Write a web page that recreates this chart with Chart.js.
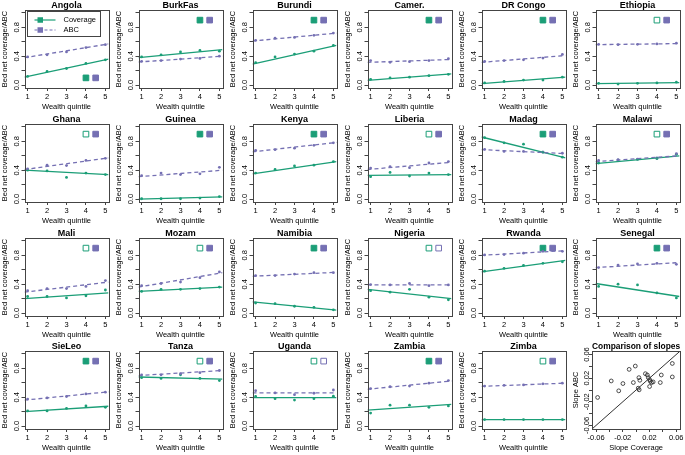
<!DOCTYPE html>
<html><head><meta charset="utf-8">
<script src="https://cdn.jsdelivr.net/npm/chart.js@4/dist/chart.umd.min.js"></script>
<style>
html,body{margin:0;padding:0;background:#fff;}
#wrap{position:relative;width:685px;height:455px;overflow:hidden;background:#fff;}
#wrap canvas{position:absolute;}
</style></head>
<body><div id="wrap"></div>
<script>
// ---------- data ----------
const countries = ['Angola','BurkFas','Burundi','Camer.','DR Congo','Ethiopia','Ghana','Guinea','Kenya','Liberia','Madag','Malawi','Mali','Mozam','Namibia','Nigeria','Rwanda','Senegal','SieLeo','Tanza','Uganda','Zambia','Zimba'];
const quintiles = [1,2,3,4,5];
const coverage = [
  [0.12,0.19,0.23,0.30,0.35],[0.39,0.42,0.46,0.48,0.47],[0.31,0.39,0.43,0.47,0.55],[0.08,0.10,0.11,0.13,0.15],
  [0.03,0.05,0.07,0.07,0.11],[0.025,0.015,0.025,0.03,0.04],[0.40,0.39,0.30,0.36,0.34],[0.005,0.005,0.005,0.015,0.035],
  [0.36,0.41,0.46,0.47,0.52],[0.31,0.37,0.32,0.36,0.34],[0.85,0.78,0.76,0.65,0.58],[0.50,0.54,0.55,0.56,0.62],
  [0.23,0.23,0.21,0.24,0.32],[0.30,0.33,0.33,0.34,0.36],[0.14,0.13,0.095,0.08,0.045],[0.31,0.29,0.33,0.22,0.185],
  [0.58,0.62,0.66,0.69,0.71],[0.37,0.40,0.39,0.28,0.21],[0.21,0.21,0.245,0.28,0.26],[0.67,0.66,0.71,0.66,0.63],
  [0.41,0.38,0.36,0.38,0.415],[0.18,0.29,0.29,0.26,0.28],[0.09,0.09,0.09,0.09,0.09]
];
const abc = [
  [0.39,0.42,0.46,0.52,0.56],[0.33,0.34,0.36,0.37,0.40],[0.62,0.65,0.66,0.69,0.72],[0.34,0.315,0.325,0.34,0.365],
  [0.33,0.34,0.35,0.375,0.425],[0.565,0.56,0.565,0.57,0.58],[0.42,0.47,0.465,0.535,0.565],[0.325,0.36,0.34,0.35,0.44],
  [0.675,0.685,0.705,0.745,0.78],[0.43,0.45,0.435,0.50,0.52],[0.69,0.66,0.66,0.65,0.635],[0.535,0.545,0.555,0.57,0.63],
  [0.31,0.34,0.34,0.37,0.45],[0.38,0.41,0.43,0.49,0.57],[0.52,0.52,0.54,0.56,0.56],[0.395,0.39,0.41,0.38,0.39],
  [0.805,0.81,0.83,0.855,0.855],[0.63,0.665,0.68,0.69,0.675],[0.375,0.39,0.41,0.445,0.47],[0.71,0.71,0.725,0.74,0.77],
  [0.49,0.46,0.435,0.455,0.50],[0.52,0.545,0.555,0.595,0.63],[0.555,0.565,0.57,0.585,0.595]
];
// fitted line values at the left and right edges of the x range
const fitX = [0.84, 5.16];
const coverageFit = [
  [0.11,0.36],[0.38,0.49],[0.29,0.55],[0.065,0.155],[0.02,0.11],[0.02,0.035],[0.40,0.34],[0.0,0.03],
  [0.35,0.52],[0.33,0.34],[0.86,0.57],[0.49,0.60],[0.20,0.28],[0.30,0.36],[0.155,0.04],[0.33,0.20],
  [0.57,0.73],[0.41,0.23],[0.20,0.275],[0.68,0.65],[0.395,0.395],[0.22,0.30],[0.09,0.09]
];
const abcFit = [
  [0.38,0.57],[0.32,0.40],[0.61,0.72],[0.315,0.355],[0.315,0.41],[0.56,0.575],[0.41,0.57],[0.31,0.40],
  [0.655,0.785],[0.41,0.51],[0.685,0.63],[0.52,0.60],[0.29,0.43],[0.36,0.56],[0.51,0.565],[0.39,0.39],
  [0.80,0.865],[0.63,0.70],[0.36,0.475],[0.70,0.77],[0.46,0.46],[0.51,0.625],[0.55,0.595]
];
// significance of the trend (1 = filled square, 0 = open square)
const coverageSig = [1,1,1,1,1,0,0,1,1,0,1,0,0,0,1,0,1,1,1,0,0,1,0];
const abcSig      = [1,1,1,1,1,1,1,1,1,1,1,1,1,1,1,0,1,1,1,1,0,1,1];
// comparison of slopes
const slopeCoverage = [-0.0576,-0.0372,-0.026,-0.0197,-0.0104,-0.0012,-0.0041,0.0042,0.0056,0.0032,0.0046,0.0139,0.0168,0.0183,0.0202,0.0212,0.0231,0.0202,0.0255,0.0377,0.0362,0.0542,0.0542];
const slopeABC      = [-0.0126,0.0153,-0.0014,0.0109,0.0349,0.0405,0.0126,0.0209,0.0165,0.0031,0.0003,0.0276,0.0254,0.0209,0.0176,0.0148,0.0126,0.0059,0.0137,0.0254,0.0126,0.0449,0.0221];
const identityLine = [-0.066, 0.066];
// axis ticks
const yTicks = [0,0.2,0.4,0.6,0.8,1.0];
const yLabelled = [0,0.4,0.8];
const slopeTicks = [-0.06,-0.04,-0.02,0,0.02,0.04,0.06];
const slopeLabelled = [-0.06,-0.02,0.02,0.06];

// ---------- drawing ----------
const GREEN='#1b9e77', PURPLE='#7570b3', AX='#444';
const FONT="'Liberation Sans', Arial, Helvetica, sans-serif";
Chart.defaults.font.family = FONT;
Chart.defaults.color = '#000';
Chart.defaults.animation = false;

const W=114, H=114, COLW=685/6, ROWH=455/4;
const wrap = document.getElementById('wrap');

const framePlugin = {id:'frame', afterDatasetsDraw(chart){
  const a = chart.chartArea, ctx = chart.ctx;
  ctx.save(); ctx.strokeStyle=AX; ctx.lineWidth=1;
  ctx.strokeRect(Math.round(a.left)+0.5, Math.round(a.top)+0.5, Math.round(a.right-a.left), Math.round(a.bottom-a.top));
  ctx.restore();
}};
const legendPlugin = {id:'rlegend', afterDraw(chart, args, opts){
  if(!opts.show) return;
  const a = chart.chartArea, ctx = chart.ctx;
  const bx = Math.round(a.left)+2.5, by = Math.round(a.top)+1.5, bw = 73, bh = 25;
  ctx.save();
  ctx.fillStyle='#fff'; ctx.fillRect(bx,by,bw,bh);
  ctx.strokeStyle=AX; ctx.lineWidth=1; ctx.strokeRect(bx,by,bw,bh);
  const rows = [{c:GREEN,t:'Coverage',dash:[]},{c:PURPLE,t:'ABC',dash:[3,2]}];
  rows.forEach((r,k)=>{
    const y = by + 8.5 + k*10;
    ctx.strokeStyle=r.c; ctx.lineWidth=1.2; ctx.setLineDash(r.dash);
    ctx.beginPath(); ctx.moveTo(bx+7,y); ctx.lineTo(bx+28,y); ctx.stroke();
    ctx.setLineDash([]);
    ctx.fillStyle=r.c; ctx.fillRect(bx+10,y-2.75,5.5,5.5);
    ctx.fillStyle='#000'; ctx.font='7.5px '+FONT; ctx.textBaseline='middle'; ctx.textAlign='left';
    ctx.fillText(r.t, bx+36, y);
  });
  ctx.restore();
}};

function scale(axis, min, max, ticks, labelled, fmt, title, o){
  return {
    type:'linear', position: axis==='x'?'bottom':'left', min, max,
    afterBuildTicks: s => { s.ticks = ticks.map(v=>({value:v})); },
    afterFit: s => { if(axis==='x') s.height = o.size; else s.width = o.size; },
    grid:{display:true, drawOnChartArea:false, drawTicks:true, tickLength:3, tickColor:AX, color:AX, lineWidth:1},
    border:{display:false},
    ticks:{autoSkip:false, minRotation: axis==='y'?90:0, maxRotation: axis==='y'?90:0,
      crossAlign: axis==='y'?'center':'near', padding:o.pad, font:{size:7.5}, color:'#000',
      callback: v => labelled.some(l=>Math.abs(l-v)<1e-9) ? fmt(v) : ''},
    title:{display:true, text:title, font:{size:7.5}, color:'#000', padding:o.tpad}
  };
}

function makeCanvas(idx){
  const col = idx % 6, row = Math.floor(idx/6);
  const c = document.createElement('canvas');
  c.width=W; c.height=H;
  c.style.width=W+'px'; c.style.height=H+'px';
  c.style.left=Math.round(col*COLW)+'px'; c.style.top=Math.round(row*ROWH)+'px';
  wrap.appendChild(c);
  return c;
}

countries.forEach((name,i)=>{
  const markY = i===0 ? 0.1 : 0.9;
  const datasets = [
    {data: fitX.map((x,k)=>({x, y:abcFit[i][k]})), showLine:true, borderColor:PURPLE, borderWidth:1.3, borderDash:[4,3], pointRadius:0, fill:false},
    {data: fitX.map((x,k)=>({x, y:coverageFit[i][k]})), showLine:true, borderColor:GREEN, borderWidth:1.3, pointRadius:0, fill:false},
    {data: quintiles.map((q,k)=>({x:q, y:abc[i][k]})), pointRadius:1.4, backgroundColor:PURPLE, borderWidth:0},
    {data: quintiles.map((q,k)=>({x:q, y:coverage[i][k]})), pointRadius:1.4, backgroundColor:GREEN, borderWidth:0},
    {data:[{x:4,y:markY}], pointStyle:'rect', pointRadius:4, borderWidth:1, borderColor:GREEN, backgroundColor: coverageSig[i]?GREEN:'#fff'},
    {data:[{x:4.5,y:markY}], pointStyle:'rect', pointRadius:4, borderWidth:1, borderColor:PURPLE, backgroundColor: abcSig[i]?PURPLE:'#fff'}
  ];
  new Chart(makeCanvas(i), {
    type:'scatter',
    data:{datasets},
    options:{
      responsive:false, devicePixelRatio:1, animation:false,
      layout:{padding:{left:0,right:5.5,top:0,bottom:0}},
      plugins:{legend:{display:false}, tooltip:{enabled:false},
        title:{display:true, text:name, fullSize:false, color:'#000', font:{size:9, weight:'bold', lineHeight:1}, padding:{top:1,bottom:0}},
        rlegend:{show: i===0}},
      scales:{
        x: scale('x', 0.84, 5.16, quintiles, quintiles, v=>String(v), 'Wealth quintile', {size:26, pad:1.2, tpad:{top:0,bottom:2.6}}),
        y: scale('y', -0.04, 1.04, yTicks, yLabelled, v=>v.toFixed(1), 'Bed net coverage/ABC', {size:24.5, pad:-0.4, tpad:{top:0.5,bottom:0}})
      }
    },
    plugins:[framePlugin, legendPlugin]
  });
});

// comparison of slopes panel
new Chart(makeCanvas(23), {
  type:'scatter',
  data:{datasets:[
    {data: identityLine.map(v=>({x:v,y:v})), showLine:true, borderColor:'#333', borderWidth:1, pointRadius:0},
    {data: slopeCoverage.map((x,k)=>({x, y:slopeABC[k]})), pointRadius:1.9, borderWidth:0.8, borderColor:'#222', backgroundColor:'rgba(0,0,0,0)'}
  ]},
  options:{
    responsive:false, devicePixelRatio:1, animation:false,
    layout:{padding:{left:0,right:3,top:0,bottom:0}},
    plugins:{legend:{display:false}, tooltip:{enabled:false},
      title:{display:true, text:'Comparison of slopes', fullSize:false, color:'#000', font:{size:9, weight:'bold', lineHeight:1}, padding:{top:1,bottom:0}},
      rlegend:{show:false}},
    scales:{
      x: scale('x', -0.066, 0.066, slopeTicks, slopeLabelled, v=>v.toFixed(2), 'Slope Coverage', {size:26, pad:1.2, tpad:{top:0,bottom:2.6}}),
      y: scale('y', -0.066, 0.066, slopeTicks, slopeLabelled, v=>v.toFixed(2), 'Slope ABC', {size:21, pad:-6.2, tpad:{top:0.5,bottom:0}})
    }
  },
  plugins:[framePlugin, legendPlugin]
});
</script>
</body></html>
